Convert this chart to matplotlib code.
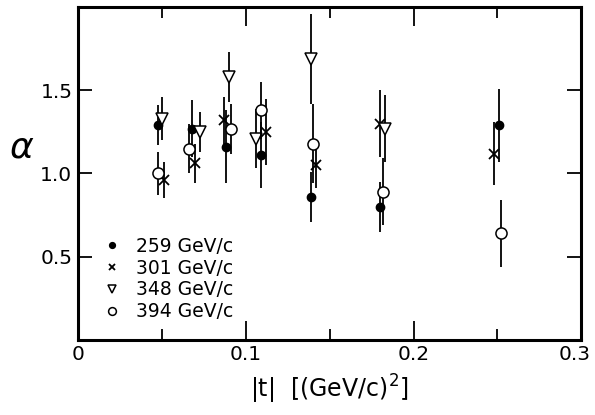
import matplotlib
matplotlib.use("Agg")
import matplotlib.pyplot as plt
from matplotlib.transforms import ScaledTranslation

# |t| values, alpha and errors
t259 = [0.048, 0.068, 0.088, 0.109, 0.139, 0.180, 0.251]
a259 = [1.29, 1.27, 1.16, 1.11, 0.86, 0.80, 1.29]
e259 = [0.12, 0.17, 0.22, 0.20, 0.15, 0.15, 0.22]

t301 = [0.051, 0.070, 0.087, 0.112, 0.142, 0.180, 0.248]
a301 = [0.96, 1.06, 1.32, 1.25, 1.05, 1.30, 1.12]
e301 = [0.11, 0.12, 0.14, 0.20, 0.14, 0.20, 0.19]

t348 = [0.050, 0.073, 0.090, 0.106, 0.139, 0.183]
a348 = [1.33, 1.25, 1.58, 1.21, 1.69, 1.27]
e348 = [0.13, 0.12, 0.15, 0.18, 0.27, 0.20]

t394 = [0.048, 0.066, 0.091, 0.109, 0.140, 0.182, 0.252]
a394 = [1.00, 1.15, 1.27, 1.38, 1.18, 0.89, 0.64]
e394 = [0.13, 0.15, 0.15, 0.17, 0.24, 0.20, 0.20]

labels = ["259 GeV/c", "301 GeV/c", "348 GeV/c", "394 GeV/c"]
xticks = [0, 0.1, 0.2, 0.3]
xticklabels = ["0", "0.1", "0.2", "0.3"]
yticks = [0.5, 1.0, 1.5]
yticklabels = ["0.5", "1.0", "1.5"]

fig = plt.figure(figsize=(5.95, 4.15), dpi=100)
ax = fig.add_axes([0.131, 0.181, 0.846, 0.802])

styles = [
    (t259, a259, e259, dict(marker="o", mfc="black", ms=6)),
    (t301, a301, e301, dict(marker="x", mfc="black", ms=7, mew=1.3)),
    (t348, a348, e348, dict(marker="v", mfc="white", ms=9, mew=1.1)),
    (t394, a394, e394, dict(marker="o", mfc="white", ms=8, mew=1.1)),
]
handles = []
for (t, a, e, st), lab in zip(styles, labels):
    ax.errorbar(t, a, yerr=e, fmt="none", ecolor="black", elinewidth=1.3, capsize=0)
    h, = ax.plot(t, a, ls="none", color="black", mec="black", label=lab, **st)
    handles.append(h)

ax.legend(handles=handles, loc="lower left", bbox_to_anchor=(0.03, 0.028),
          frameon=False, fontsize=13.5, markerscale=0.7, handlelength=1.0,
          handletextpad=0.8, labelspacing=0.15, borderpad=0)

ax.set_xlim(0, 0.3)
ax.set_ylim(0, 2.0)
ax.set_xticks(xticks)
ax.set_xticks([0.05, 0.15, 0.25], minor=True)
ax.set_xticklabels(xticklabels)
ax.set_yticks(yticks)
ax.set_yticklabels(yticklabels)
ax.tick_params(which="both", direction="in", top=True, right=True,
               labelsize=14.5, width=1.3, pad=4)
ax.tick_params(which="major", axis="x", length=14)
ax.tick_params(which="minor", axis="x", length=8)
ax.tick_params(which="major", axis="y", length=10)
for s in ax.spines.values():
    s.set_linewidth(2.2)

# nudge the last x label so it stays inside the canvas
last = ax.get_xticklabels()[-1]
last.set_transform(last.get_transform() + ScaledTranslation(-5 / 72, 0, fig.dpi_scale_trans))

ax.set_xlabel(r"|t|  [(GeV/c)$^{2}$]", fontsize=17, labelpad=6)
fig.text(0.037, 0.645, r"$\alpha$", fontsize=26, ha="center", va="center")

fig.savefig("out.png", dpi=100)
